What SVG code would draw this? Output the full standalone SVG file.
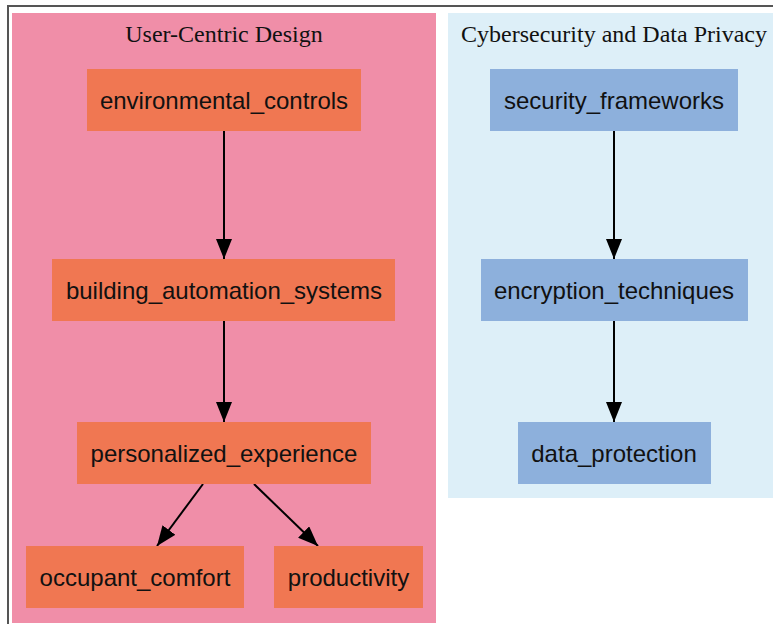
<svg xmlns="http://www.w3.org/2000/svg" width="773" height="624" viewBox="0 0 773 624">
<defs>
<marker id="ah" markerWidth="20" markerHeight="16" refX="20" refY="8" orient="auto" markerUnits="userSpaceOnUse">
<path d="M0,0 L20,8 L0,16 Z" fill="#000"/>
</marker>
<style>
.title{font-family:"Liberation Serif","Times New Roman",serif;font-size:24px;fill:#111;text-anchor:middle}
.lbl{font-family:"Liberation Sans",Arial,sans-serif;font-size:24px;fill:#111;text-anchor:middle;dominant-baseline:central}
.o{fill:#F07752}
.b{fill:#8DB0DC}
.e{stroke:#000;stroke-width:2;fill:none;marker-end:url(#ah)}
</style>
</defs>
<rect x="0" y="0" width="773" height="624" fill="#fff"/>
<path d="M8,624 V6 H773" fill="none" stroke="#555" stroke-width="2"/>
<g id="cluster_user">
<rect x="12" y="13" width="424" height="610" fill="#F08EA8"/>
<text class="title" x="224" y="42">User-Centric Design</text>
</g>
<g id="cluster_cyber">
<rect x="448" y="13" width="325" height="485" fill="#DDEFF8"/>
<text class="title" x="614" y="42">Cybersecurity and Data Privacy</text>
</g>
<g id="edges">
<path class="e" d="M224,131 V259"/>
<path class="e" d="M224,321 V422"/>
<path class="e" d="M203,484 L157,546"/>
<path class="e" d="M254,484 L318,546"/>
<path class="e" d="M614,131 V259"/>
<path class="e" d="M614,321 V422"/>
</g>
<g id="environmental_controls"><rect class="o" x="87" y="69" width="274" height="62"/><text class="lbl" x="224" y="100">environmental_controls</text></g>
<g id="building_automation_systems"><rect class="o" x="52" y="259" width="343" height="62"/><text class="lbl" x="224" y="290">building_automation_systems</text></g>
<g id="personalized_experience"><rect class="o" x="77" y="422" width="294" height="62"/><text class="lbl" x="224" y="453">personalized_experience</text></g>
<g id="occupant_comfort"><rect class="o" x="26" y="546" width="218" height="62"/><text class="lbl" x="135" y="577">occupant_comfort</text></g>
<g id="productivity"><rect class="o" x="274" y="546" width="149" height="62"/><text class="lbl" x="348.5" y="577">productivity</text></g>
<g id="security_frameworks"><rect class="b" x="490" y="69" width="248" height="62"/><text class="lbl" x="614" y="100">security_frameworks</text></g>
<g id="encryption_techniques"><rect class="b" x="481" y="259" width="267" height="62"/><text class="lbl" x="614" y="290">encryption_techniques</text></g>
<g id="data_protection"><rect class="b" x="518" y="422" width="193" height="62"/><text class="lbl" x="614" y="453">data_protection</text></g>
</svg>
